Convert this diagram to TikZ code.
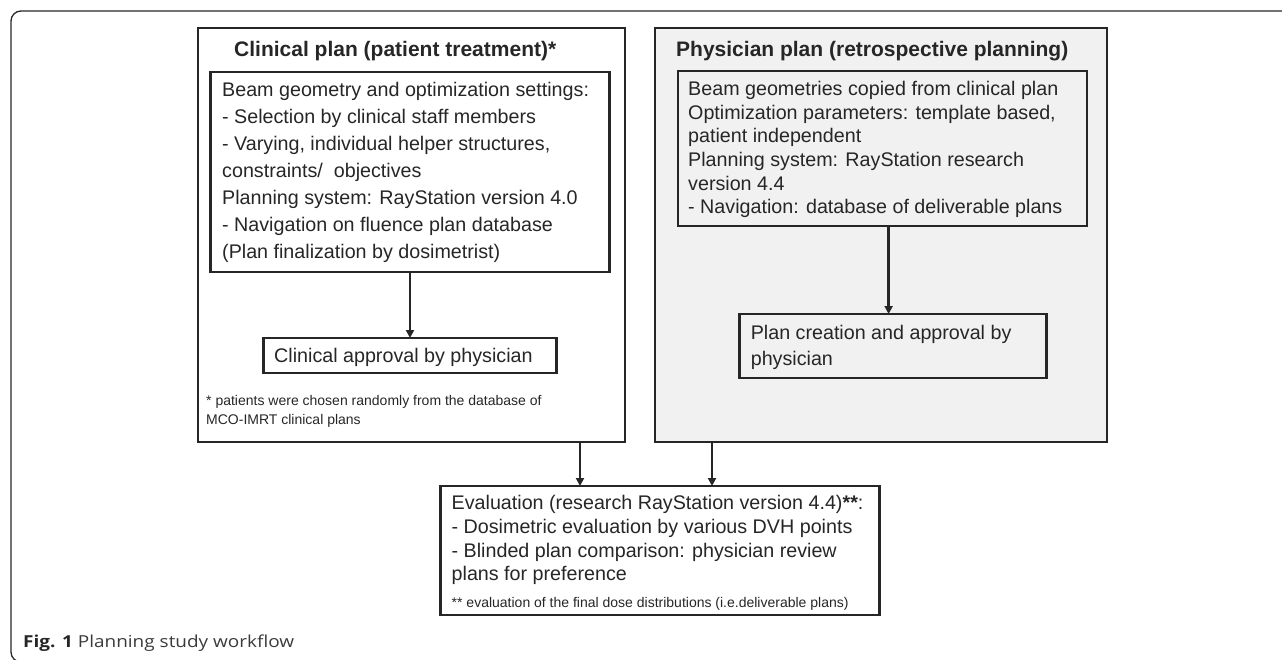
\documentclass[tikz,border=0pt]{standalone}
\usepackage{fontspec}
\setmainfont{Liberation Sans}
\newfontfamily\capfont[FakeStretch=1.15]{Open Sans}
\usetikzlibrary{arrows.meta}
\definecolor{ink}{HTML}{262626}
\definecolor{panel}{HTML}{F1F1F1}
\definecolor{captxt}{HTML}{3A3A3A}
\tikzset{
  box/.style={draw=ink, line width=2.7pt, inner sep=0pt, outer sep=0pt},
  arr/.style={draw=ink, line width=2.4pt, -{Triangle[width=8pt,length=8pt]}},
  frame/.style={draw=ink, line width=1.3pt},
  ttl/.style={anchor=base west, inner sep=0pt, font=\bfseries\fontsize{21}{25}\selectfont, text=ink},
  txt/.style={anchor=base west, inner sep=0pt, font=\fontsize{19.7}{24}\selectfont, text=ink},
  small/.style={anchor=base west, inner sep=0pt, font=\fontsize{14}{17}\selectfont, text=ink},
}
\begin{document}
\begin{tikzpicture}[x=1pt,y=-1pt]
\useasboundingbox (0,0) rectangle (1282,660);
% outer figure frame
\draw[frame, rounded corners=10pt] (1300,11) -- (11,11) -- (11,662) -- (40,662);
% boxes
\node[box, minimum width=427, minimum height=414] (LB) at (411.5,235) {};
\node[box, fill=panel, minimum width=452, minimum height=414] (PB) at (881,235) {};
\node[box, minimum width=399, minimum height=200] (CI) at (410,172) {};
\node[box, minimum width=293, minimum height=35] (AP) at (410,355.5) {};
\node[box, fill=panel, minimum width=409, minimum height=155] (PI) at (882.5,148.5) {};
\node[box, fill=panel, minimum width=307, minimum height=64] (PC) at (893,346) {};
\node[box, minimum width=439, minimum height=129] (EV) at (660,550.5) {};
% titles
\node[ttl] (t1) at (234,57) {Clinical plan (patient treatment)*};
\node[ttl] (t2) at (676,57) {Physician plan (retrospective planning)};
% clinical inner text
\foreach \s [count=\i] in {Beam geometry and optimization settings:,
  - Selection by clinical staff members,
  {- Varying, individual helper structures,},
  constraints/\ \ objectives,
  Planning system: RayStation version 4.0,
  - Navigation on fluence plan database,
  (Plan finalization by dosimetrist)}
  { \node[txt] (c\i) at (222,{96.5+27*(\i-1)}) {\s}; }
\node[txt] (ap) at (274,362) {Clinical approval by physician};
\node[small] (f1) at (206,405) {* patients were chosen randomly from the database of};
\node[small] (f2) at (206,424) {MCO-IMRT clinical plans};
% physician inner text
\foreach \s [count=\i] in {Beam geometries copied from clinical plan,
  {Optimization parameters: template based,},
  patient independent,
  Planning system: RayStation research,
  version 4.4,
  - Navigation: database of deliverable plans}
  { \node[txt] (p\i) at (688,{95.7+23.65*(\i-1)}) {\s}; }
\node[txt] (pc1) at (750.6,339) {Plan creation and approval by};
\node[txt] (pc2) at (750.6,365) {physician};
% evaluation text
\node[txt] (e1) at (451.5,509) {Evaluation (research RayStation version 4.4)\textbf{**}:};
\node[txt] (e2) at (451.5,533) {- Dosimetric evaluation by various DVH points};
\node[txt] (e3) at (451.5,557) {- Blinded plan comparison: physician review};
\node[txt] (e4) at (451.5,580) {plans for preference};
\node[small] (e5) at (451.5,607) {** evaluation of the final dose distributions (i.e.deliverable plans)};
% caption
\node[anchor=base west, inner sep=0pt, font=\capfont\fontsize{16.5}{19}\selectfont, text=captxt] (cap) at (23,647) {\textbf{\color{ink}Fig. 1} Planning study workflow};
% connectors
\coordinate (xP) at (888.6,0);
\coordinate (xL) at (580,0);
\coordinate (xR) at (712,0);
\draw[arr] (CI.south) -- (AP.north);
\draw[arr] (PI.south -| xP) -- (PC.north -| xP);
\draw[arr] (LB.south -| xL) -- (EV.north -| xL);
\draw[arr] (PB.south -| xR) -- (EV.north -| xR);
\end{tikzpicture}
\end{document}
